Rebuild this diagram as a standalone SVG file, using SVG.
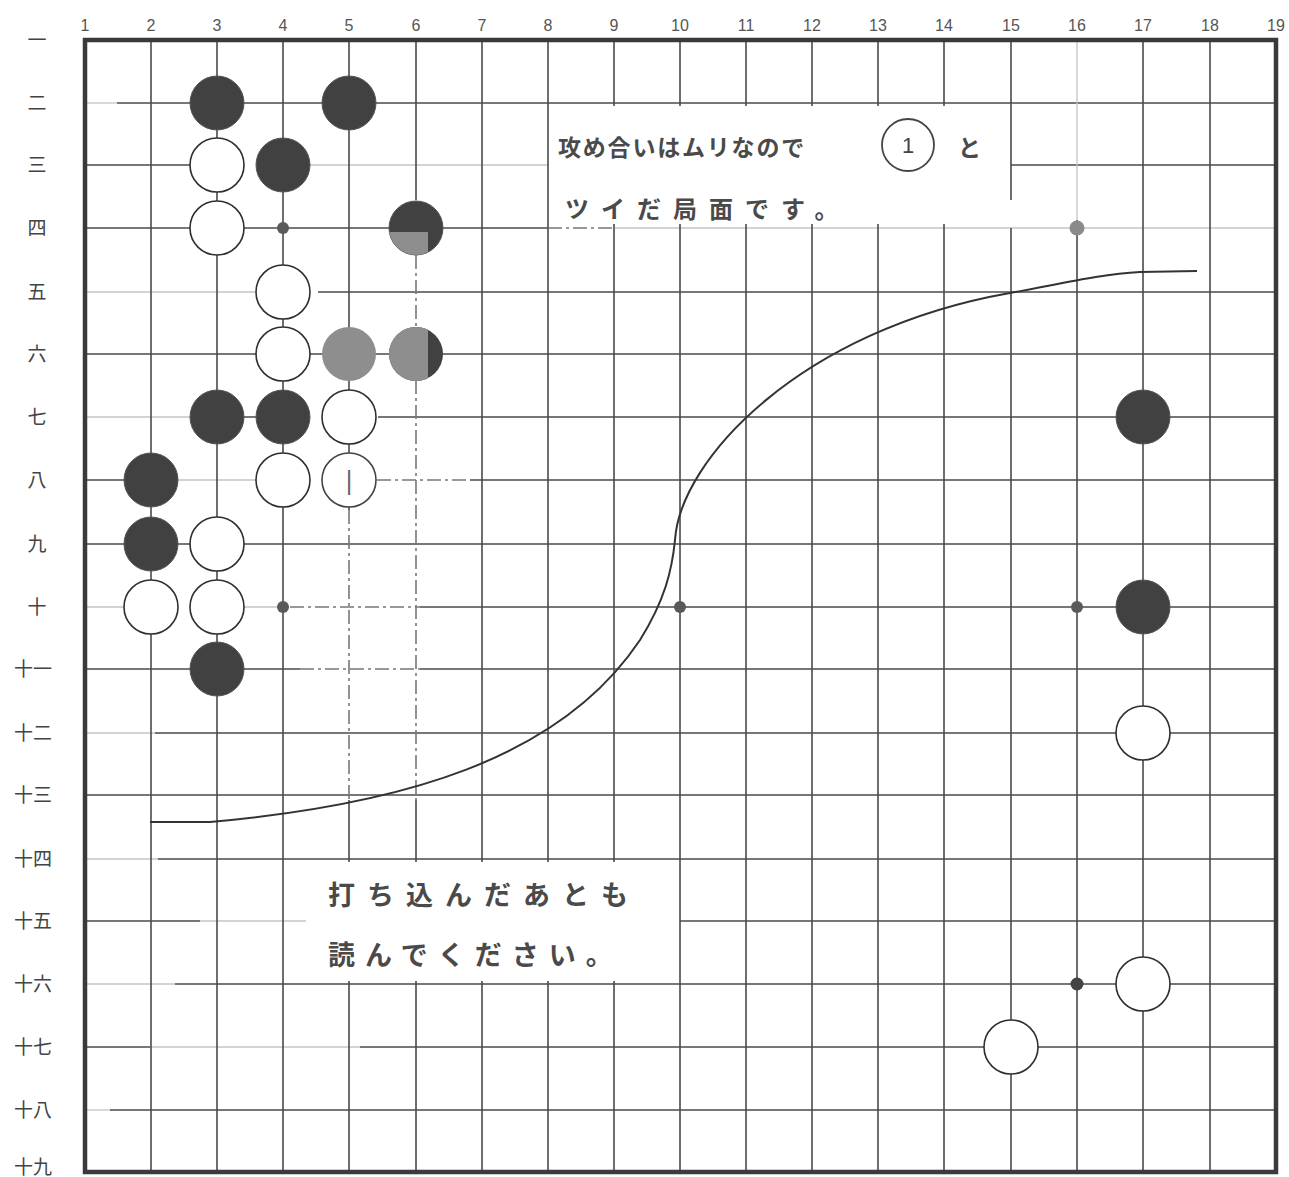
<svg xmlns="http://www.w3.org/2000/svg" width="1289" height="1177" viewBox="0 0 1289 1177">
<defs>
<style>
.d{stroke:#4a4a4a;stroke-width:1.6;fill:none}
.f{stroke:#c4c4c4;stroke-width:1.3;fill:none}
.dd{stroke:#777;stroke-width:1.6;fill:none;stroke-dasharray:14 4 3 4}
.bk{fill:#414141;stroke:#555;stroke-width:1}
.wh{fill:#fff;stroke:#2f2f2f;stroke-width:1.6}
.gr{fill:#8e8e8e}
.hs{fill:#5a5a5a}
.num{font-family:"Liberation Sans",sans-serif;font-size:16px;fill:#555;text-anchor:middle}
.rl{font-family:"Noto Sans CJK JP",sans-serif;font-size:19px;fill:#444;text-anchor:middle}
.jp{font-family:"Noto Sans CJK JP",sans-serif;font-weight:700;fill:#4a4a4a}
</style>
<clipPath id="c64"><circle cx="416" cy="228" r="27"/></clipPath>
<clipPath id="c66"><circle cx="416" cy="354" r="27"/></clipPath>
</defs>
<rect width="1289" height="1177" fill="#fff"/>

<g id="labels-top">
<text class="num" x="85" y="31">1</text>
<text class="num" x="151" y="31">2</text>
<text class="num" x="217" y="31">3</text>
<text class="num" x="283" y="31">4</text>
<text class="num" x="349" y="31">5</text>
<text class="num" x="416" y="31">6</text>
<text class="num" x="482" y="31">7</text>
<text class="num" x="548" y="31">8</text>
<text class="num" x="614" y="31">9</text>
<text class="num" x="680" y="31">10</text>
<text class="num" x="746" y="31">11</text>
<text class="num" x="812" y="31">12</text>
<text class="num" x="878" y="31">13</text>
<text class="num" x="944" y="31">14</text>
<text class="num" x="1011" y="31">15</text>
<text class="num" x="1077" y="31">16</text>
<text class="num" x="1143" y="31">17</text>
<text class="num" x="1210" y="31">18</text>
<text class="num" x="1276" y="31">19</text>
</g>

<g id="labels-left">
<text class="rl" x="37" y="47">一</text>
<text class="rl" x="37" y="110">二</text>
<text class="rl" x="37" y="172">三</text>
<text class="rl" x="37" y="235">四</text>
<text class="rl" x="37" y="299">五</text>
<text class="rl" x="37" y="361">六</text>
<text class="rl" x="37" y="424">七</text>
<text class="rl" x="37" y="487">八</text>
<text class="rl" x="37" y="551">九</text>
<text class="rl" x="37" y="614">十</text>
<text class="rl" x="33" y="676">十一</text>
<text class="rl" x="33" y="740">十二</text>
<text class="rl" x="33" y="802">十三</text>
<text class="rl" x="33" y="866">十四</text>
<text class="rl" x="33" y="928">十五</text>
<text class="rl" x="33" y="991">十六</text>
<text class="rl" x="33" y="1054">十七</text>
<text class="rl" x="33" y="1117">十八</text>
<text class="rl" x="33" y="1174" font-size="17">十九</text>
</g>

<g id="grid">
<path class="f" d="M85 103H117"/><path class="d" d="M117 103H1276"/>
<path class="d" d="M85 165H190"/><path class="f" d="M310 165H548"/><path class="d" d="M1011 165H1276"/>
<path class="d" d="M85 228H548"/><path class="f" d="M615 228H1276"/>
<path class="f" d="M85 292H255"/><path class="d" d="M318 292H1276"/>
<path class="d" d="M85 354H1276"/>
<path class="f" d="M85 417H190"/><path class="d" d="M244 417H256M378 417H1276"/>
<path class="d" d="M85 480H125"/><path class="f" d="M178 480H256"/><path class="dd" d="M377 480H470"/><path class="d" d="M470 480H1276"/>
<path class="d" d="M85 544H1276"/>
<path class="f" d="M85 607H125M244 607H283"/><path class="dd" d="M290 607H420"/><path class="d" d="M420 607H1276"/>
<path class="d" d="M85 669H300"/><path class="dd" d="M300 669H420"/><path class="d" d="M420 669H1276"/>
<path class="f" d="M85 733H155"/><path class="d" d="M155 733H1276"/>
<path class="d" d="M85 795H1276"/>
<path class="f" d="M85 859H158"/><path class="d" d="M158 859H1276"/>
<path class="d" d="M85 921H200"/><path class="f" d="M200 921H306"/><path class="d" d="M680 921H1276"/>
<path class="f" d="M85 984H175"/><path class="d" d="M175 984H1276"/>
<path class="d" d="M85 1047H150"/><path class="f" d="M150 1047H360"/><path class="d" d="M360 1047H1276"/>
<path class="f" d="M85 1110H110"/><path class="d" d="M110 1110H1276"/>
<path class="d" d="M151 40V1172"/>
<path class="d" d="M217 40V1172"/>
<path class="d" d="M283 40V1172"/>
<path class="d" d="M349 40V510"/><path class="dd" d="M349 510V800"/><path class="d" d="M349 800V1172"/>
<path class="d" d="M416 40V200"/><path class="dd" d="M416 255V800"/><path class="d" d="M416 800V1172"/>
<path class="d" d="M482 40V1172"/>
<path class="d" d="M548 40V1172"/>
<path class="d" d="M614 40V1172"/>
<path class="d" d="M680 40V1172"/>
<path class="d" d="M746 40V1172"/>
<path class="d" d="M812 40V1172"/>
<path class="d" d="M878 40V1172"/>
<path class="d" d="M944 40V1172"/>
<path class="d" d="M1011 40V200M1011 228V1172"/>
<path class="f" d="M1077 40V220"/><path class="d" d="M1077 220V1172"/>
<path class="d" d="M1143 40V1172"/>
<path class="d" d="M1210 40V1172"/>
</g>

<g id="hoshi">
<circle class="hs" cx="283" cy="228" r="6"/>
<circle cx="1077" cy="228" r="7.5" fill="#8a8a8a"/>
<circle class="hs" cx="283" cy="607" r="6"/>
<circle class="hs" cx="680" cy="607" r="6"/>
<circle class="hs" cx="1077" cy="607" r="6"/>
<circle cx="1077" cy="984" r="6.5" fill="#444"/>
</g>

<g id="connectors">
<path d="M150 822L210 822C400 805 560 760 640 640C665 600 672 570 675 540C680 460 800 330 1010 293C1060 284 1100 274 1140 272L1197 271" fill="none" stroke="#333" stroke-width="2"/>
</g>

<g id="board-border">
<rect x="85" y="40" width="1191" height="1132" fill="none" stroke="#3a3a3a" stroke-width="4.5"/>
</g>

<g id="note-1">
<rect x="549" y="106" width="461" height="118" fill="#fff"/>
<path class="dd" d="M548 228H615"/>
<text class="jp" x="558" y="156" font-size="23" letter-spacing="1.8">攻め合いはムリなので</text>
<circle cx="908" cy="145" r="26" fill="none" stroke="#444" stroke-width="1.8"/>
<text x="908" y="153" font-family="Liberation Sans, sans-serif" font-size="22" fill="#444" text-anchor="middle">1</text>
<text class="jp" x="958" y="156" font-size="23">と</text>
<text class="jp" x="565" y="218" font-size="24" letter-spacing="12">ツイだ局面です。</text>
</g>

<g id="note-2">
<rect x="306" y="862" width="372" height="119" fill="#fff"/>
<text class="jp" x="328" y="905" font-size="27" letter-spacing="12">打ち込んだあとも</text>
<text class="jp" x="328" y="965" font-size="27" letter-spacing="10">読んでください。</text>
</g>

<g id="stones-black">
<circle class="bk" cx="217" cy="103" r="27"/>
<circle class="bk" cx="349" cy="103" r="27"/>
<circle class="bk" cx="283" cy="165" r="27"/>
<circle class="bk" cx="217" cy="417" r="27"/>
<circle class="bk" cx="283" cy="417" r="27"/>
<circle class="bk" cx="151" cy="480" r="27"/>
<circle class="bk" cx="151" cy="544" r="27"/>
<circle class="bk" cx="217" cy="669" r="27"/>
<circle class="bk" cx="1143" cy="417" r="27"/>
<circle class="bk" cx="1143" cy="607" r="27"/>
</g>

<g id="stone-6-4">
<circle class="bk" cx="416" cy="228" r="27"/>
<rect class="gr" x="380" y="232" width="48" height="30" clip-path="url(#c64)"/>
</g>

<g id="stones-gray">
<circle class="gr" cx="349" cy="354" r="27"/>
<g id="stone-6-6">
<circle cx="416" cy="354" r="27" fill="#414141"/>
<rect class="gr" x="380" y="320" width="48" height="70" clip-path="url(#c66)"/>
</g>
</g>

<g id="stones-white">
<circle class="wh" cx="217" cy="165" r="27"/>
<circle class="wh" cx="217" cy="228" r="27"/>
<circle class="wh" cx="283" cy="292" r="27"/>
<circle class="wh" cx="283" cy="354" r="27"/>
<circle class="wh" cx="349" cy="417" r="27"/>
<circle class="wh" cx="283" cy="480" r="27"/>
<circle class="wh" cx="217" cy="544" r="27"/>
<circle class="wh" cx="151" cy="607" r="27"/>
<circle class="wh" cx="217" cy="607" r="27"/>
<circle class="wh" cx="1143" cy="733" r="27"/>
<circle class="wh" cx="1143" cy="984" r="27"/>
<circle class="wh" cx="1011" cy="1047" r="27"/>
</g>

<g id="stone-1">
<circle cx="349" cy="480" r="27" fill="#fff" stroke="#444" stroke-width="1.6"/>
<text x="349" y="489" font-family="DejaVu Sans, sans-serif" font-size="24" fill="#666" text-anchor="middle">|</text>
</g>
</svg>
